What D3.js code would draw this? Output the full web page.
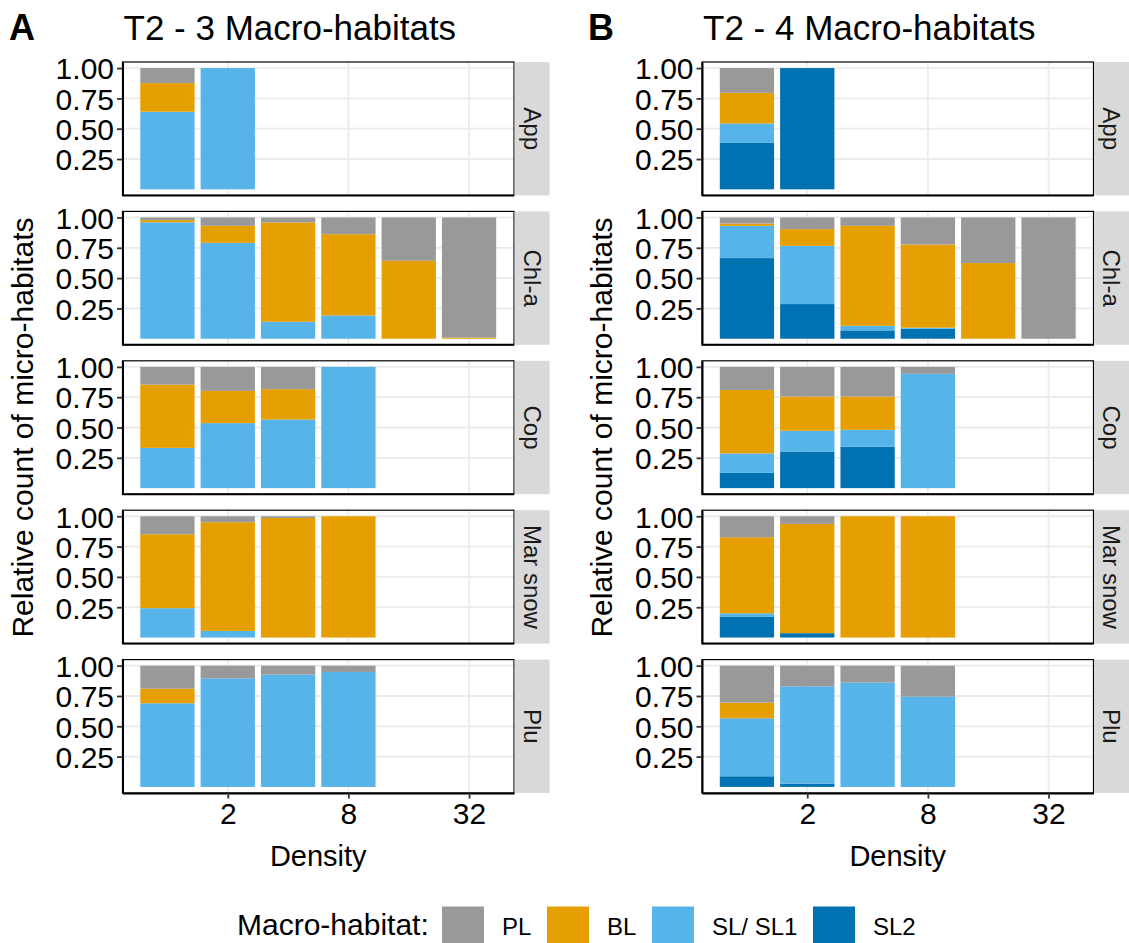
<!DOCTYPE html>
<html>
<head>
<meta charset="utf-8">
<script src="https://cdn.jsdelivr.net/npm/d3@7"></script>
<style>
  html, body { margin: 0; padding: 0; background: #fff; }
  svg { display: block; font-family: "Liberation Sans", Arial, sans-serif; }
</style>
</head>
<body>
<svg id="chart" width="1129" height="943"></svg>
<script>
// ---- data -------------------------------------------------------------
const densities = [1, 2, 4, 8, 16, 32];
const facets = ["App", "Chl-a", "Cop", "Mar snow", "Plu"];
const habitats = ["PL", "BL", "SL/ SL1", "SL2"];
const habitatColors = ["#999999", "#E69F00", "#56B4E9", "#0072B2"];
const xTicks = [2, 8, 32];
const yTicks = [0.25, 0.5, 0.75, 1.0];

// Proportions per density, each entry = [PL, BL, SL/ SL1, SL2]
// T2 - 3 macro-habitats
const A_App     = [[0.124, 0.236, 0.640, 0], [0, 0, 1.0, 0]];
const A_Chla    = [[0.022, 0.018, 0.960, 0], [0.069, 0.140, 0.791, 0], [0.041, 0.819, 0.140, 0],
                   [0.138, 0.670, 0.192, 0], [0.357, 0.643, 0, 0], [0.990, 0.010, 0, 0]];
const A_Cop     = [[0.146, 0.522, 0.332, 0], [0.198, 0.266, 0.536, 0], [0.184, 0.250, 0.566, 0],
                   [0, 0, 1.0, 0]];
const A_MarSnow = [[0.148, 0.610, 0.242, 0], [0.049, 0.896, 0.055, 0], [0.014, 0.986, 0, 0],
                   [0, 1.0, 0, 0]];
const A_Plu     = [[0.190, 0.120, 0.690, 0], [0.104, 0, 0.896, 0], [0.074, 0, 0.926, 0],
                   [0.052, 0, 0.948, 0]];

// T2 - 4 macro-habitats
const B_App     = [[0.204, 0.253, 0.160, 0.383], [0, 0, 0, 1.0]];
const B_Chla    = [[0.050, 0.019, 0.266, 0.665], [0.096, 0.138, 0.480, 0.286], [0.069, 0.824, 0.038, 0.069],
                   [0.223, 0.686, 0.009, 0.082], [0.376, 0.624, 0, 0], [1.0, 0, 0, 0]];
const B_Cop     = [[0.190, 0.524, 0.160, 0.126], [0.245, 0.282, 0.171, 0.302], [0.245, 0.274, 0.140, 0.341],
                   [0.058, 0, 0.942, 0]];
const B_MarSnow = [[0.173, 0.627, 0.030, 0.170], [0.063, 0.901, 0, 0.036], [0, 1.0, 0, 0],
                   [0, 1.0, 0, 0]];
const B_Plu     = [[0.305, 0.129, 0.478, 0.088], [0.170, 0, 0.803, 0.027], [0.140, 0, 0.860, 0],
                   [0.255, 0, 0.745, 0]];

const panels = [
  { tag: "A", title: "T2 - 3 Macro-habitats", rows: [A_App, A_Chla, A_Cop, A_MarSnow, A_Plu] },
  { tag: "B", title: "T2 - 4 Macro-habitats", rows: [B_App, B_Chla, B_Cop, B_MarSnow, B_Plu] }
];

// ---- layout -----------------------------------------------------------
const svg = d3.select("#chart");
const FONT = "Liberation Sans, Arial, sans-serif";
const panelLeft = [122.5, 702];
const plotW = 391.5;
const stripW = 35;
const rowTop = 62, rowH = 133.4, rowGap = 16;
const barHalf = 0.45;           // half bar width in log2 units
const xPad = 0.295;             // axis expansion in log2 units

panels.forEach((p, pi) => {
  const left = panelLeft[pi];
  const g = svg.append("g");

  const x = d3.scaleLog().base(2)
    .domain([Math.pow(2, -barHalf - xPad), Math.pow(2, 5 + barHalf + xPad)])
    .range([left, left + plotW]);

  // tag and title
  g.append("text").attr("x", pi === 0 ? 9 : 588).attr("y", 40)
    .attr("font-family", FONT).attr("font-size", 36).attr("font-weight", "bold")
    .text(p.tag);
  g.append("text").attr("x", left + 1).attr("y", 40)
    .attr("font-family", FONT).attr("font-size", 35)
    .text(p.title);

  p.rows.forEach((rows, ri) => {
    const top = rowTop + ri * (rowH + rowGap);
    const y = d3.scaleLinear().domain([-0.05, 1.05]).range([top + rowH, top]);
    const fg = g.append("g");

    // grid
    fg.append("g").selectAll("line").data(yTicks).join("line")
      .attr("x1", left).attr("x2", left + plotW)
      .attr("y1", d => y(d)).attr("y2", d => y(d))
      .attr("stroke", "#EBEBEB").attr("stroke-width", 1.8);
    fg.append("g").selectAll("line").data(xTicks).join("line")
      .attr("x1", d => x(d)).attr("x2", d => x(d))
      .attr("y1", top).attr("y2", top + rowH)
      .attr("stroke", "#EBEBEB").attr("stroke-width", 1.8);

    // stacked bars (bottom to top: SL2, SL/ SL1, BL, PL)
    const segs = [];
    rows.forEach((vals, di) => {
      let acc = 0;
      [3, 2, 1, 0].forEach(hi => {
        const v = vals[hi];
        if (v > 0) segs.push({ d: densities[di], y0: acc, y1: acc + v, c: habitatColors[hi] });
        acc += v;
      });
    });
    fg.append("g").selectAll("rect").data(segs).join("rect")
      .attr("x", d => x(d.d * Math.pow(2, -barHalf)))
      .attr("width", d => x(d.d * Math.pow(2, barHalf)) - x(d.d * Math.pow(2, -barHalf)))
      .attr("y", d => y(d.y1))
      .attr("height", d => y(d.y0) - y(d.y1))
      .attr("fill", d => d.c);

    // border
    fg.append("rect").attr("x", left).attr("y", top).attr("width", plotW).attr("height", rowH)
      .attr("fill", "none").attr("stroke", "#000").attr("stroke-width", 1.2);

    // y axis
    const ya = fg.append("g").attr("transform", `translate(${left},0)`)
      .call(d3.axisLeft(y).tickValues(yTicks).tickFormat(d3.format(".2f"))
        .tickSizeInner(5.5).tickSizeOuter(0).tickPadding(3));
    ya.select(".domain").attr("stroke", "#000").attr("stroke-width", 2);
    ya.selectAll(".tick line").attr("stroke", "#333").attr("stroke-width", 1.8);
    ya.selectAll(".tick text").attr("font-family", FONT).attr("font-size", 30).attr("fill", "#000")
      .attr("dy", "0.36em");

    // x axis only on the bottom row
    if (ri === p.rows.length - 1) {
      const xa = fg.append("g").attr("transform", `translate(0,${top + rowH})`)
        .call(d3.axisBottom(x).tickValues(xTicks).tickFormat(d3.format("d"))
          .tickSizeInner(5.5).tickSizeOuter(0).tickPadding(4));
      xa.select(".domain").attr("stroke", "#000").attr("stroke-width", 2);
      xa.selectAll(".tick line").attr("stroke", "#333").attr("stroke-width", 1.8);
      xa.selectAll(".tick text").attr("font-family", FONT).attr("font-size", 30).attr("fill", "#000");
    } else {
      fg.append("line").attr("x1", left).attr("x2", left + plotW)
        .attr("y1", top + rowH).attr("y2", top + rowH)
        .attr("stroke", "#000").attr("stroke-width", 2);
    }

    // strip
    fg.append("rect").attr("x", left + plotW + 0.6).attr("y", top).attr("width", stripW).attr("height", rowH)
      .attr("fill", "#D9D9D9");
    const sx = left + plotW + 0.6 + stripW / 2, sy = top + rowH / 2;
    fg.append("text").attr("transform", `translate(${sx},${sy}) rotate(90)`)
      .attr("text-anchor", "middle").attr("dy", "0.35em")
      .attr("font-family", FONT).attr("font-size", 24).attr("fill", "#1A1A1A")
      .text(facets[ri]);
  });

  // axis titles
  const bottom = rowTop + 5 * rowH + 4 * rowGap;
  g.append("text").attr("x", left + plotW / 2).attr("y", 866)
    .attr("text-anchor", "middle").attr("font-family", FONT).attr("font-size", 29)
    .text("Density");
  g.append("text")
    .attr("transform", `translate(${pi === 0 ? 33 : 612},${(rowTop + bottom) / 2}) rotate(-90)`)
    .attr("text-anchor", "middle").attr("font-family", FONT).attr("font-size", 30)
    .text("Relative count of micro-habitats");
});

// ---- legend -----------------------------------------------------------
const lg = svg.append("g");
lg.append("text").attr("x", 237).attr("y", 935).attr("font-family", FONT).attr("font-size", 30)
  .text("Macro-habitat:");
const keyX = [442, 547, 652, 813];
habitats.forEach((h, i) => {
  lg.append("rect").attr("x", keyX[i]).attr("y", 906.5).attr("width", 42).attr("height", 42)
    .attr("fill", habitatColors[i]);
  lg.append("text").attr("x", keyX[i] + 60).attr("y", 935)
    .attr("font-family", FONT).attr("font-size", 24).text(h);
});
</script>
</body>
</html>
